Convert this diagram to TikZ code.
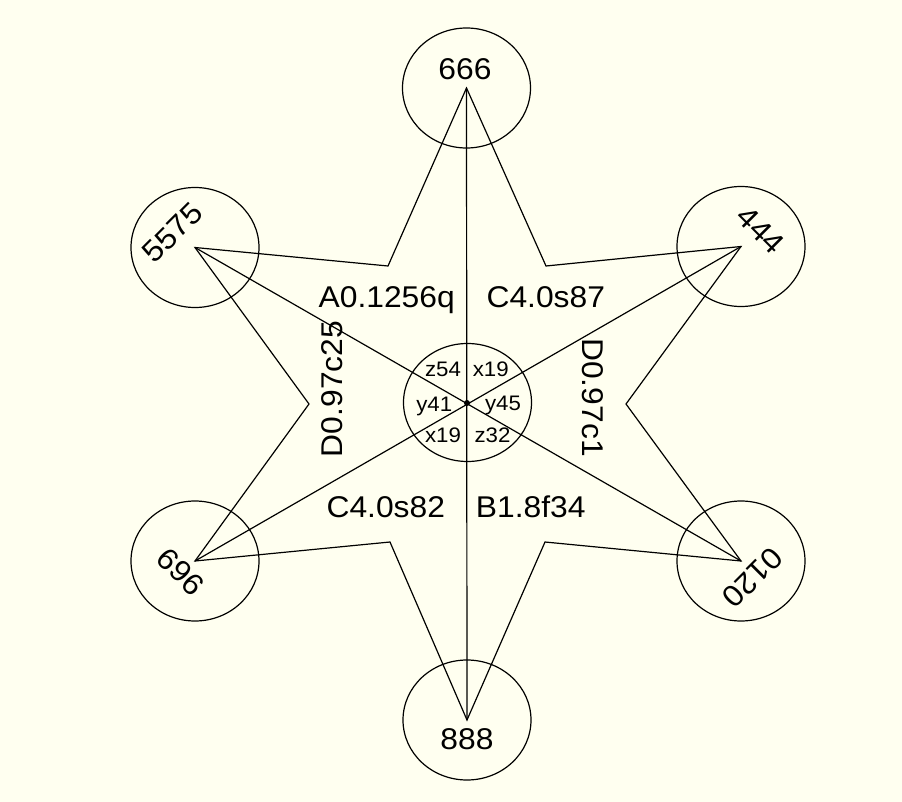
\documentclass[tikz,border=0pt]{standalone}
\usepackage{fontspec}
\setmainfont{Liberation Sans}[FakeStretch=1.06]
\definecolor{bg}{HTML}{FFFFF0}
\begin{document}
\begin{tikzpicture}[x=1pt,y=-1pt,line width=1.2pt,
  big/.style={font=\fontsize{30}{36}\selectfont, inner sep=0pt},
  small/.style={font=\fontsize{21}{25}\selectfont, inner sep=0pt},
  ring/.style={x radius=64pt, y radius=60pt}]
\fill[bg] (0,0) rectangle (902,802);
\useasboundingbox (0,0) rectangle (902,802);
% star tips
\coordinate (T)  at (466.5,88);
\coordinate (UL) at (195,247.5);
\coordinate (UR) at (741,246.5);
\coordinate (LL) at (195,561);
\coordinate (LR) at (741,561);
\coordinate (B)  at (467,720);
\coordinate (O)  at (467,403);
% concave vertices
\coordinate (a1) at (546,266);
\coordinate (a2) at (626,404);
\coordinate (a3) at (545,542);
\coordinate (a4) at (390,542);
\coordinate (a5) at (309,404);
\coordinate (a6) at (388,266);
% rings
\draw (T)  ellipse [ring];
\draw (UL) ellipse [ring];
\draw (UR) ellipse [ring];
\draw (LL) ellipse [ring];
\draw (LR) ellipse [ring];
\draw (B)  ellipse [ring];
\draw (467.5,402.5) ellipse [x radius=64pt, y radius=59pt];
% star outline
\draw[line join=miter] (T) -- (a1) -- (UR) -- (a2) -- (LR) -- (a3) -- (B) -- (a4) -- (LL) -- (a5) -- (UL) -- (a6) -- cycle;
% diagonals
\draw (T) -- (B);
\draw (UL) -- (LR);
\draw (UR) -- (LL);
\fill (O) circle (3pt);
% tip labels
\node[big, anchor=base] (l666) at (465,80) {666};
\node[big, anchor=base] (l888) at (467,749) {888};
\node[big, rotate=45] (l5575) at (172.5,232.5) {5575};
\node[big, rotate=-45] (l444) at (760.8,230) {444};
\node[big, rotate=-45] (l696) at (180.8,571.7) {696};
\node[big, rotate=225] (l0120) at (752.5,577.5) {0120};
% sector labels
\node[big, anchor=base] (lA) at (386.7,308) {A0.1256q};
\node[big, anchor=base] (lC1) at (545.8,308) {C4.0s87};
\node[big, anchor=base] (lC2) at (385.8,517.3) {C4.0s82};
\node[big, anchor=base] (lB) at (530.8,517.3) {B1.8f34};
\node[big, rotate=90] (lD1) at (331.7,389) {D0.97c25};
\node[big, rotate=-90] (lD2) at (593.3,397.5) {D0.97c1};
% inner labels
\node[small, anchor=base] (s1) at (443,376.7) {z54};
\node[small, anchor=base] (s2) at (490.8,376.7) {x19};
\node[small, anchor=base] (s3) at (434.2,411.7) {y41};
\node[small, anchor=base] (s4) at (503,410) {y45};
\node[small, anchor=base] (s5) at (443,442.7) {x19};
\node[small, anchor=base] (s6) at (492.5,442.7) {z32};
\end{tikzpicture}
\end{document}
